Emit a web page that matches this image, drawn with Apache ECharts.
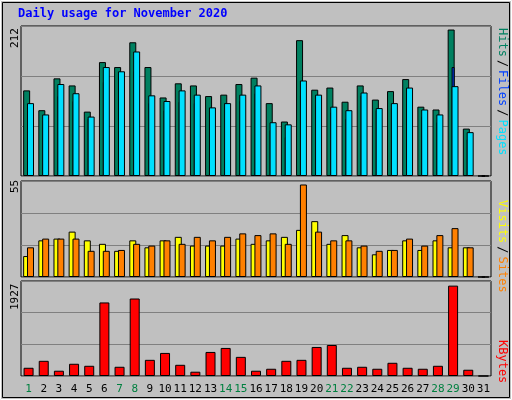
<!DOCTYPE html>
<html><head><meta charset="utf-8">
<script src="https://cdn.jsdelivr.net/npm/echarts@6/dist/echarts.min.js"></script>
<style>html,body{margin:0;padding:0;background:#c0c0c0}#c{width:512px;height:400px}</style>
</head><body><div id="c"></div>
<script>
// Datos
var days = ["1","2","3","4","5","6","7","8","9","10","11","12","13","14","15","16","17","18","19","20","21","22","23","24","25","26","27","28","29","30","31"];
var weekend = ["1","7","8","14","15","21","22","28","29"];
var hits  = [121,93,138,128,91,161,154,189,154,111,131,128,113,115,130,139,103,77,192,122,125,105,128,108,120,137,98,94,207,67,0];
var files = [99,79,113,106,81,133,141,148,103,93,105,103,92,103,106,117,65,55,114,100,90,81,114,93,96,93,84,76,154,52,0];
var pages = [103,87,130,117,84,154,148,176,114,106,121,115,97,103,115,128,76,73,135,115,98,93,118,96,103,125,94,87,127,62,0];
var sites  = [12,21,22,26,21,19,15,21,17,21,23,18,18,18,22,19,21,23,27,32,19,24,17,13,15.5,21,15.5,21,17,17,0];
var visits = [17,22,22,22,15,15,15.5,19,18,21,19,23,21,23,25,24,25,19,53,26,21,21,18,15,15.5,22,18,24,28,17,0];
var kbytes = [167,308,107,248,207,1492,187,1572,328,468,227,87,488,569,388,107,147,308,328,589,629,167,187,147,268,167,147,207,1833,127,0];
var maxHits = 212, maxVisits = 55, maxKB = 1927;

var chart = echarts.init(document.getElementById("c"));
var font = "DejaVu Sans Mono";
var grids = [
    { left: 21, width: 470, top: 26, height: 150 },
    { left: 21, width: 470, top: 181, height: 96 },
    { left: 21, width: 470, top: 281, height: 95 }
];

function xAx(g, show) {
    return {
        type: "category", gridIndex: g, data: days, show: show !== false,
        axisLine: { show: false }, axisTick: { show: false },
        axisLabel: {
            show: g === 2, interval: 0, fontFamily: font, fontSize: 11, margin: 8,
            color: function (v) { return weekend.indexOf(v) >= 0 ? "#008040" : "#000"; }
        }
    };
}
function yAx(g, max) {
    return {
        type: "value", gridIndex: g, min: 0, max: max, interval: max / 3,
        axisLabel: { show: false }, axisLine: { show: false }, axisTick: { show: false },
        splitLine: { lineStyle: { color: "#808080", width: 1 } }
    };
}
var border = { borderColor: "#000", borderWidth: 1 };

chart.setOption({
    backgroundColor: "#c0c0c0",
    animation: false,
    grid: grids.map(function (g) { return Object.assign({ backgroundColor: "#c0c0c0", show: true, borderColor: "#000" }, g); }),
    xAxis: [xAx(0), xAx(0), xAx(1), xAx(2)],
    yAxis: [yAx(0, maxHits), yAx(1, maxVisits), yAx(2, maxKB)],
    series: [
        { type: "bar", xAxisIndex: 0, yAxisIndex: 0, data: hits, barWidth: 7, barGap: "-45%", z: 2,
          itemStyle: Object.assign({ color: "#008060" }, border) },
        { type: "bar", xAxisIndex: 0, yAxisIndex: 0, data: pages, barWidth: 7, z: 4,
          itemStyle: Object.assign({ color: "#00e0ff" }, border) },
        { type: "bar", xAxisIndex: 1, yAxisIndex: 0, data: files, barWidth: 3, z: 3,
          itemStyle: Object.assign({ color: "#0040ff" }, border) },
        { type: "bar", xAxisIndex: 2, yAxisIndex: 1, data: sites, barWidth: 7, barGap: "-45%",
          itemStyle: Object.assign({ color: "#ffff00" }, border) },
        { type: "bar", xAxisIndex: 2, yAxisIndex: 1, data: visits, barWidth: 7,
          itemStyle: Object.assign({ color: "#ff8000" }, border) },
        { type: "bar", xAxisIndex: 3, yAxisIndex: 2, data: kbytes, barWidth: 10,
          itemStyle: Object.assign({ color: "#ff0000" }, border) }
    ],
    graphic: [
        { type: "rect", shape: { x: 0.5, y: 0.5, width: 511, height: 399 }, style: { fill: null, stroke: "#fff" } },
        { type: "rect", shape: { x: 2.5, y: 2.5, width: 507, height: 395 }, style: { fill: null, stroke: "#000" } },
        { type: "text", left: 18, top: 8, style: { text: "Daily usage for November 2020", fill: "#0000ff", font: "bold 12px " + font } },
        { type: "text", x: 10, y: 48, rotation: Math.PI / 2, style: { text: "212", fill: "#000", font: "11px " + font } },
        { type: "text", x: 10, y: 193, rotation: Math.PI / 2, style: { text: "55", fill: "#000", font: "11px " + font } },
        { type: "text", x: 10, y: 310, rotation: Math.PI / 2, style: { text: "1927", fill: "#000", font: "11px " + font } },
        { type: "text", x: 508, y: 28, rotation: -Math.PI / 2, style: {
            text: "{h|Hits}{s|/}{f|Files}{s|/}{p|Pages}", font: "12px " + font,
            rich: { h: { fill: "#008060", font: "12px " + font }, s: { fill: "#000", font: "12px " + font, padding: [0, 3] },
                    f: { fill: "#0040ff", font: "12px " + font }, p: { fill: "#00e0ff", font: "12px " + font } } } },
        { type: "text", x: 508, y: 200, rotation: -Math.PI / 2, style: {
            text: "{v|Visits}{s|/}{t|Sites}", font: "12px " + font,
            rich: { v: { fill: "#ffff00", font: "12px " + font }, s: { fill: "#000", font: "12px " + font, padding: [0, 3] },
                    t: { fill: "#ff8000", font: "12px " + font } } } },
        { type: "text", x: 508, y: 340, rotation: -Math.PI / 2, style: { text: "KBytes", fill: "#ff0000", font: "12px " + font } }
    ]
});
</script></body></html>
